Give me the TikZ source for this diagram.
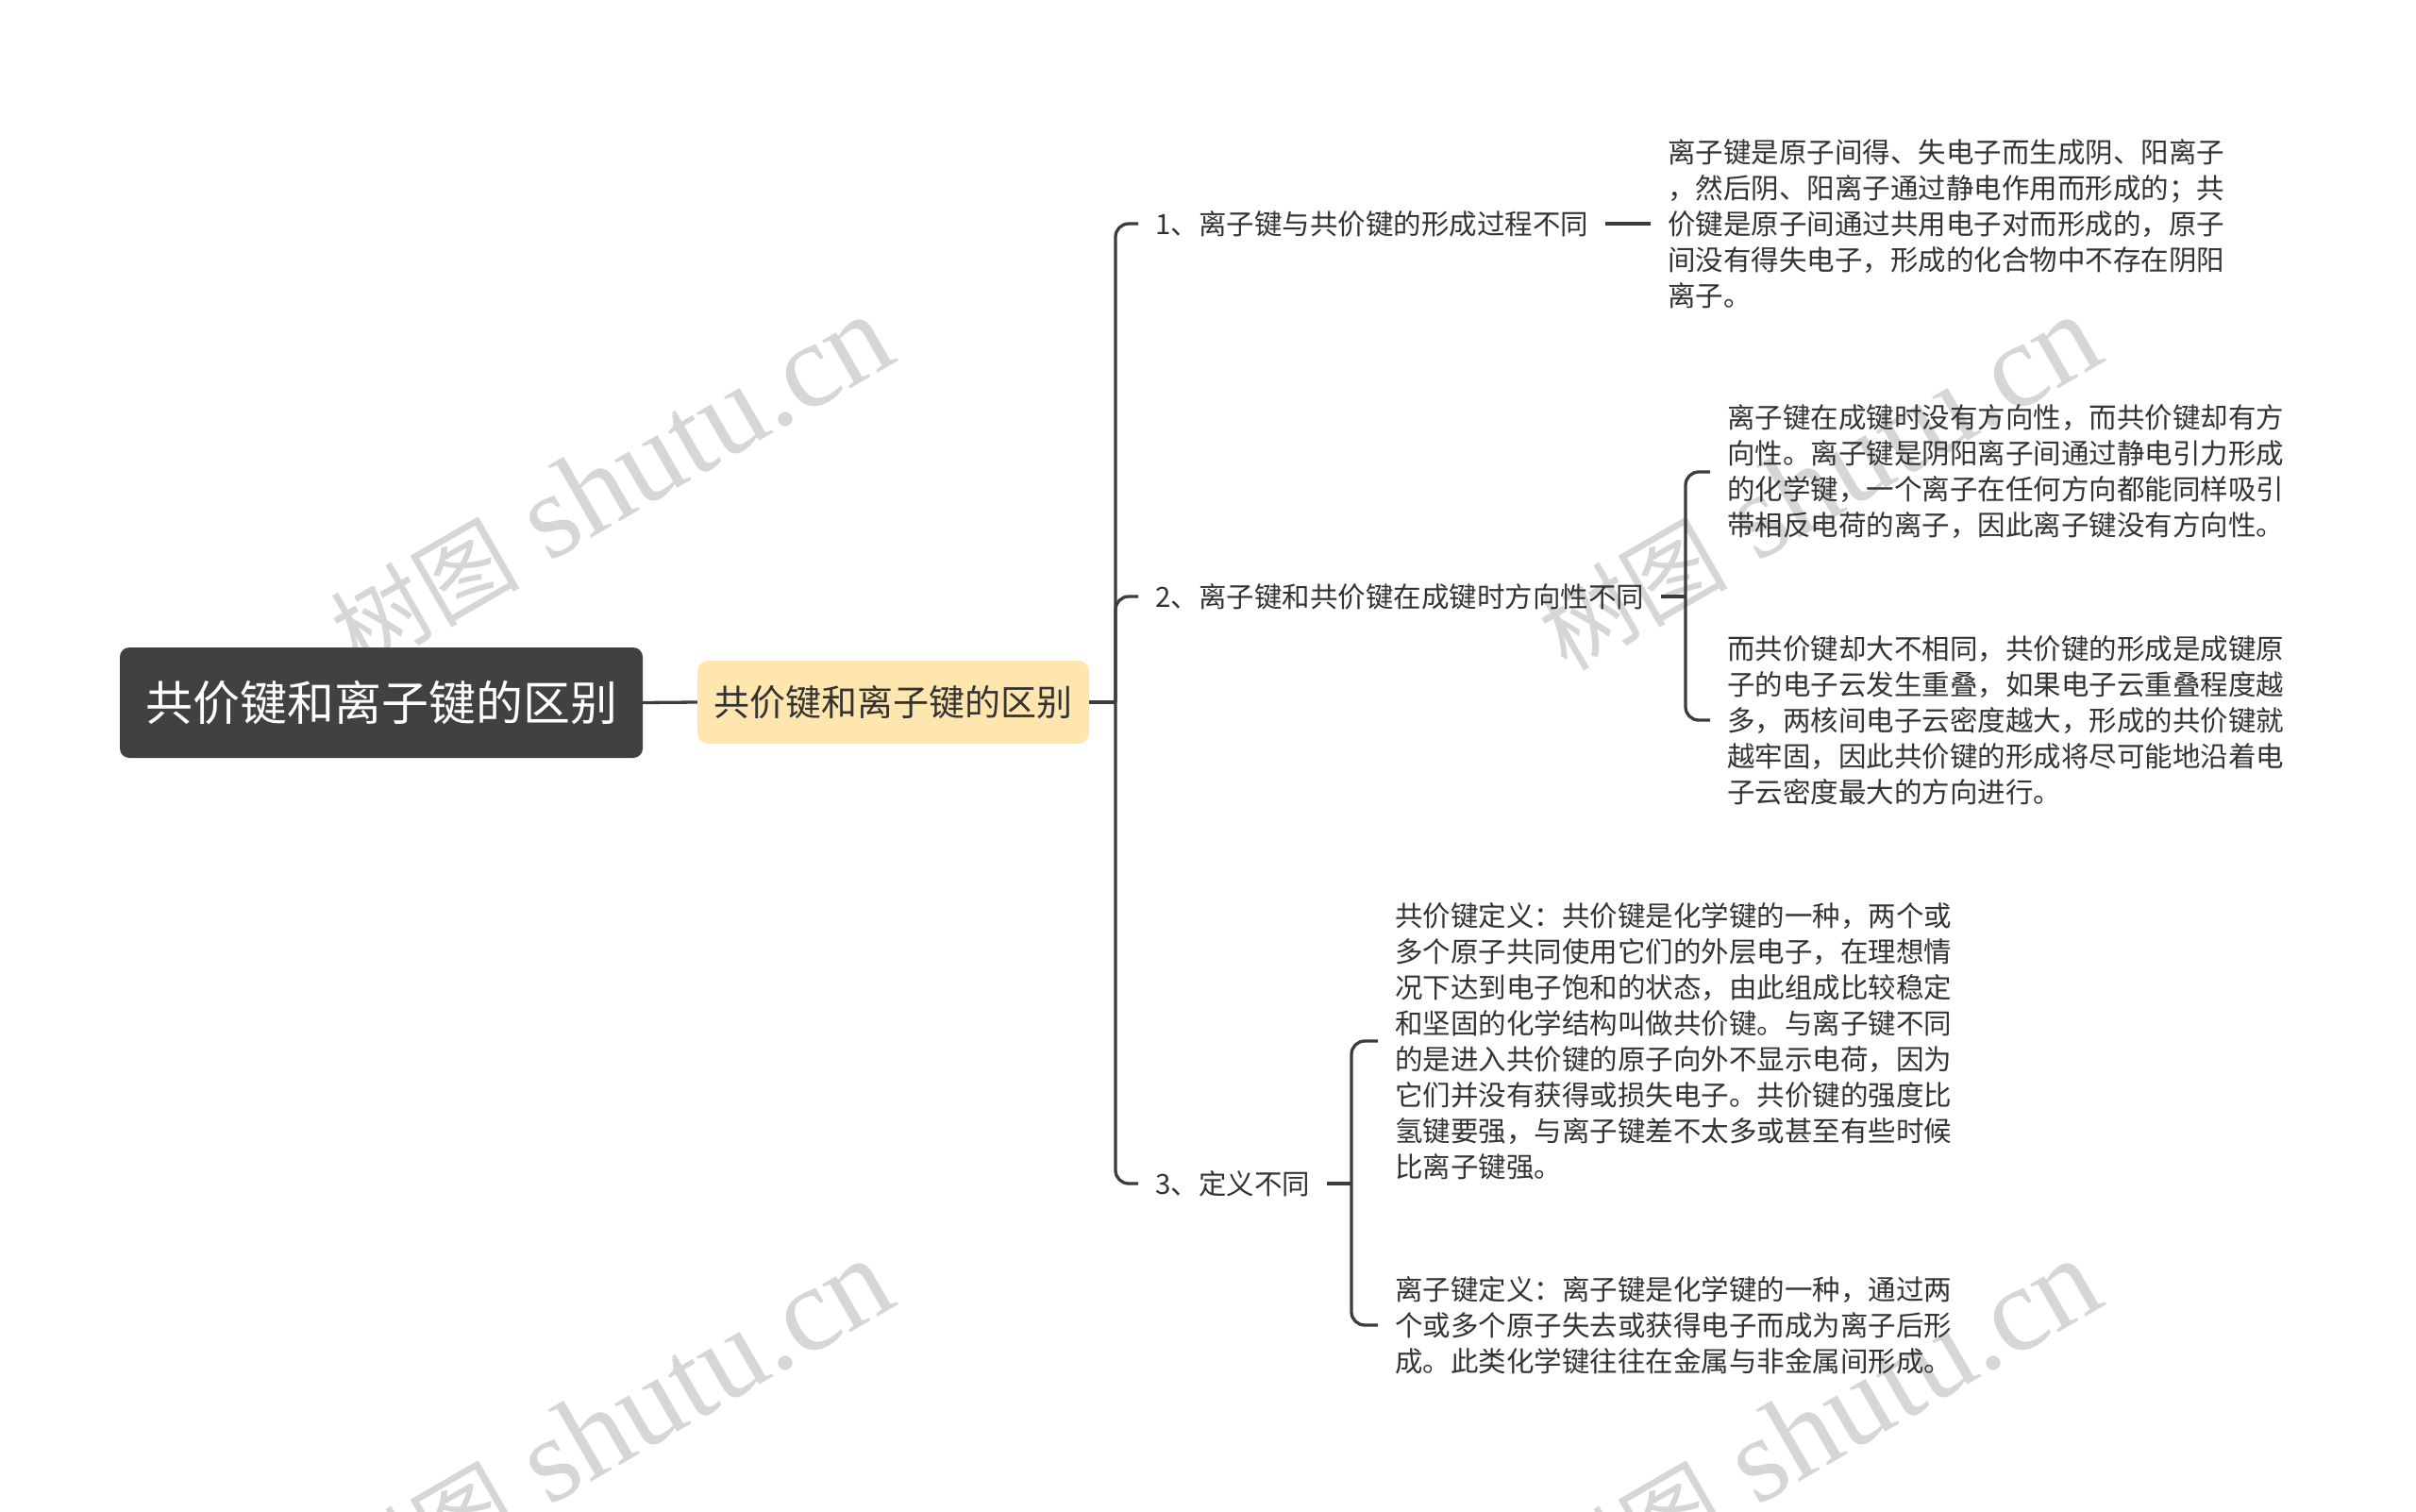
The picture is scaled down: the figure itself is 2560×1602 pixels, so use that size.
\documentclass[tikz,border=0pt]{standalone}
\usepackage{fontspec}
\newfontfamily\cjk{Noto Sans CJK SC}
\newfontfamily\wmserif{Liberation Serif}
\definecolor{rootfill}{HTML}{414141}
\definecolor{subfill}{HTML}{FFE6AE}
\definecolor{txt}{HTML}{333333}
\definecolor{lnclr}{HTML}{3C3C3C}
\definecolor{wmclr}{HTML}{D6D6D6}
\begin{document}
\begin{tikzpicture}[x=1pt,y=-1pt,
  conn/.style={draw=lnclr, line width=3.3pt},
  elbow/.style={conn, rounded corners=14pt},
  rootbox/.style={fill=rootfill, rounded corners=10pt, text=white, font=\cjk\fontsize{50}{60}\selectfont, minimum width=554pt, minimum height=117pt, inner sep=0pt},
  subbox/.style={fill=subfill, rounded corners=12pt, text=txt, font=\cjk\fontsize{38}{46}\selectfont, minimum width=415pt, minimum height=88pt, inner sep=0pt},
  item/.style={text=txt, font=\cjk\fontsize{29.5}{38}\selectfont, inner xsep=18pt, inner ysep=4pt, anchor=west},
  leaf/.style={item, align=left},
  wmark/.style={text=wmclr, rotate=30, inner sep=0pt}
]
\fill[white] (0,0) rectangle (2560,1602);
\useasboundingbox (0,0) rectangle (2560,1602);

% watermarks
\newcommand{\wmtext}{{\cjk\fontsize{100}{110}\selectfont 树图}{\wmserif\fontsize{128}{140}\selectfont\ shutu.cn}}
\node[wmark] (wm1) at (647,512) {\wmtext};
\node[wmark] (wm2) at (1927,512) {\wmtext};
\node[wmark] (wm3) at (647,1512) {\wmtext};
\node[wmark] (wm4) at (1927,1512) {\wmtext};

% nodes
\node[rootbox] (root) at (404,744.5) {共价键和离子键的区别};
\node[subbox] (sub) at (946.5,744) {共价键和离子键的区别};
\coordinate (j1) at (1182,744);

\node[item] (i1) at (1206,237) {1、离子键与共价键的形成过程不同};
\node[item] (i2) at (1206,632) {2、离子键和共价键在成键时方向性不同};
\node[item] (i3) at (1206,1254) {3、定义不同};

\node[leaf] (l1) at (1749,237) {离子键是原子间得、失电子而生成阴、阳离子\\，然后阴、阳离子通过静电作用而形成的；共\\价键是原子间通过共用电子对而形成的，原子\\间没有得失电子，形成的化合物中不存在阴阳\\离子。};

\coordinate (j2) at (1786,632);
\node[leaf] (l2a) at (1812,500) {离子键在成键时没有方向性，而共价键却有方\\向性。离子键是阴阳离子间通过静电引力形成\\的化学键，一个离子在任何方向都能同样吸引\\带相反电荷的离子，因此离子键没有方向性。};
\node[leaf] (l2b) at (1812,763) {而共价键却大不相同，共价键的形成是成键原\\子的电子云发生重叠，如果电子云重叠程度越\\多，两核间电子云密度越大，形成的共价键就\\越牢固，因此共价键的形成将尽可能地沿着电\\子云密度最大的方向进行。};

\coordinate (j3) at (1432,1254);
\node[leaf] (l3a) at (1460,1103) {共价键定义：共价键是化学键的一种，两个或\\多个原子共同使用它们的外层电子，在理想情\\况下达到电子饱和的状态，由此组成比较稳定\\和坚固的化学结构叫做共价键。与离子键不同\\的是进入共价键的原子向外不显示电荷，因为\\它们并没有获得或损失电子。共价键的强度比\\氢键要强，与离子键差不太多或甚至有些时候\\比离子键强。};
\node[leaf] (l3b) at (1460,1404) {离子键定义：离子键是化学键的一种，通过两\\个或多个原子失去或获得电子而成为离子后形\\成。此类化学键往往在金属与非金属间形成。};

% connectors
\draw[conn] (root.east) -- (sub.west);
\draw[conn] (sub.east) -- (j1);
\draw[elbow] (j1) |- (i1.west);
\draw[elbow] (j1) |- (i2.west);
\draw[elbow] (j1) |- (i3.west);
\draw[conn] (i1.east) -- (l1.west);
\draw[conn] (i2.east) -- (j2);
\draw[elbow] (j2) |- (l2a.west);
\draw[elbow] (j2) |- (l2b.west);
\draw[conn] (i3.east) -- (j3);
\draw[elbow] (j3) |- (l3a.west);
\draw[elbow] (j3) |- (l3b.west);
\end{tikzpicture}
\end{document}
